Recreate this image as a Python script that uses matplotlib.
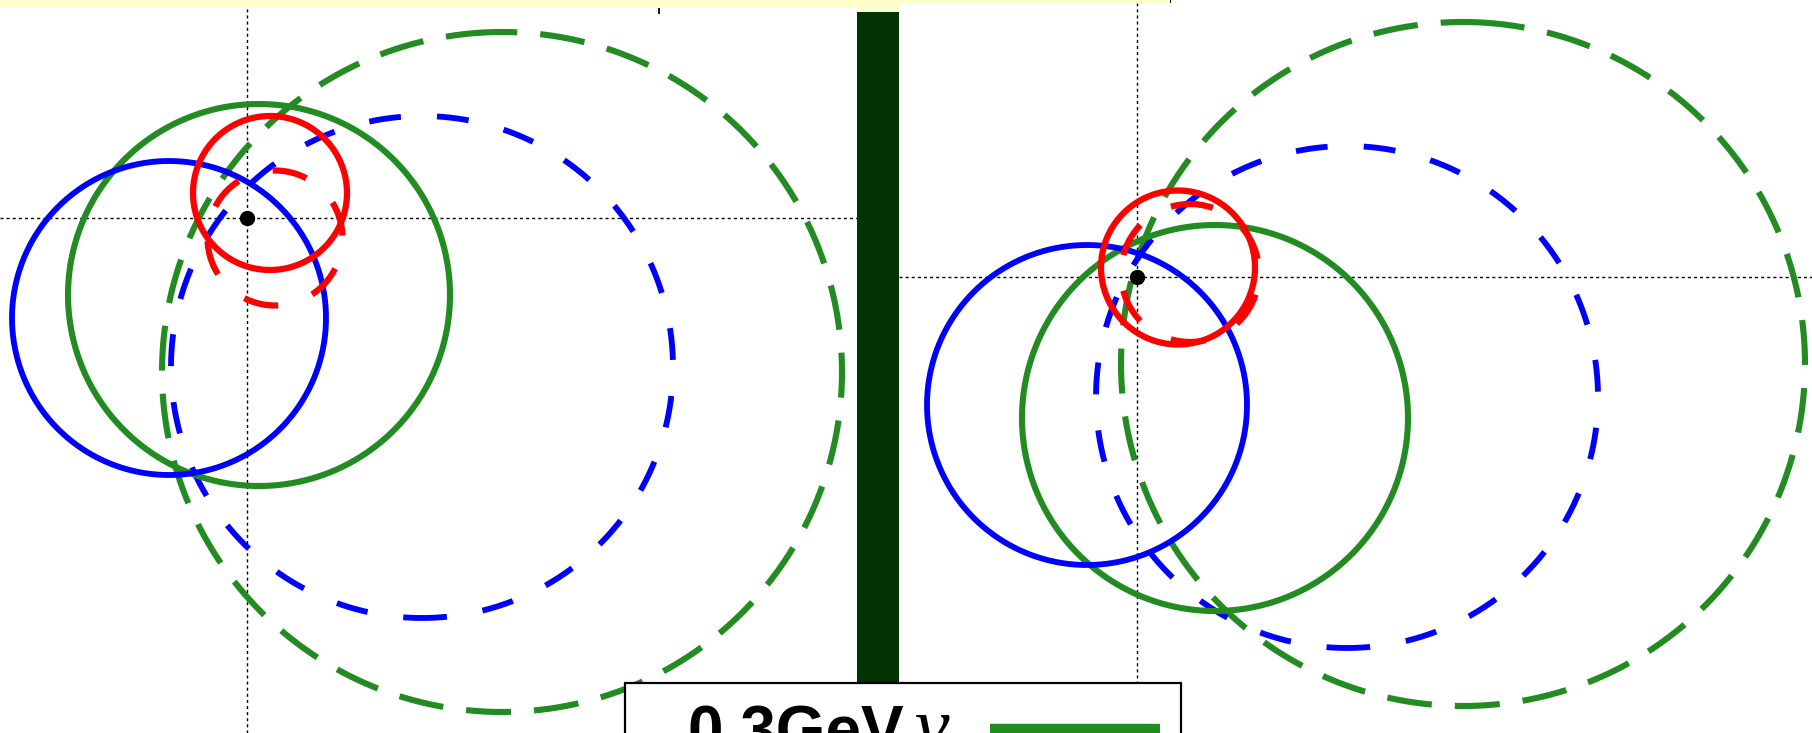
import numpy as np
import matplotlib
matplotlib.use("Agg")
import matplotlib.pyplot as plt
from matplotlib.patches import Rectangle
from matplotlib.lines import Line2D

plt.rcParams["lines.scale_dashes"] = False

# Error circles for two event displays; units relative to the true vertex (0, 0)
# order in each list: blue, green, red
left_solid_x = [-0.78, 0.12, 0.23]
left_solid_y = [-1.00, -0.77, 0.25]
left_solid_r = [1.57, 1.91, 0.77]
left_dashed_x = [1.75, 2.55, 0.28]
left_dashed_y = [-1.49, -1.54, -0.20]
left_dashed_r = [2.51, 3.40, 0.675]

right_solid_x = [-0.50, 0.78, 0.41]
right_solid_y = [-1.28, -1.41, 0.095]
right_solid_r = [1.60, 1.93, 0.77]
right_dashed_x = [2.10, 3.26, 0.53]
right_dashed_y = [-1.20, -0.87, 0.04]
right_dashed_r = [2.51, 3.42, 0.69]

vertex_x = [0.0]
vertex_y = [0.0]
legend_text = "0.3GeV"
legend_symbol = "ν"

colors = ["#0000FF", "#228B22", "#FF0000"]
widths = [4.2, 4.4, 4.5]
dash_styles = [(0, (23, 26)), (0, (32.4, 16.6)), (0, (25.2, 25.9))]
left_dash_start = [268.4, 91.9, 2.0]
right_dash_start = [268.0, 86.2, 77.0]

W, H = 1812, 733
fig = plt.figure(figsize=(W / 100, H / 100), dpi=100, facecolor="#FFFFCC")


def px_axes(x0, y0, x1, y1, ox, oy):
    ax = fig.add_axes([x0 / W, 1 - y1 / H, (x1 - x0) / W, (y1 - y0) / H])
    ax.set_xlim((x0 - ox) / 100, (x1 - ox) / 100)
    ax.set_ylim((oy - y1) / 100, (oy - y0) / 100)
    ax.set_facecolor("white")
    for s in ax.spines.values():
        s.set_visible(False)
    ax.set_yticks([])
    return ax


def ring(ax, cx, cy, r, start_deg=0.0, **kw):
    t = np.deg2rad(start_deg) + np.linspace(0, 2 * np.pi, 1441)
    ax.plot(cx + r * np.cos(t), cy + r * np.sin(t), solid_capstyle="butt",
            dash_capstyle="butt", **kw)


def draw_panel(ax, sx, sy, sr, dx, dy, dr, starts):
    ax.axhline(0, color="black", lw=1.0, ls=(0, (2.2, 2.2)), zorder=1)
    ax.axvline(0, color="black", lw=1.0, ls=(0, (2.2, 2.2)), zorder=1)
    for i in [1, 0]:
        ring(ax, dx[i], dy[i], dr[i], starts[i], color=colors[i], lw=widths[i],
             ls=dash_styles[i], zorder=2)
    for i in [1, 0]:
        ring(ax, sx[i], sy[i], sr[i], color=colors[i], lw=widths[i], zorder=3)
    ring(ax, dx[2], dy[2], dr[2], starts[2], color=colors[2], lw=widths[2],
         ls=dash_styles[2], zorder=4)
    ring(ax, sx[2], sy[2], sr[2], color=colors[2], lw=widths[2], zorder=5)
    ax.plot(vertex_x, vertex_y, "o", color="black", ms=10, zorder=6)


axL = px_axes(0, 8, 857, 733, 247, 218)
draw_panel(axL, left_solid_x, left_solid_y, left_solid_r,
           left_dashed_x, left_dashed_y, left_dashed_r, left_dash_start)
axL.xaxis.set_ticks_position("top")
axL.set_xticks([4.12])
axL.set_xticklabels([])
axL.tick_params(axis="x", direction="in", length=4.5, width=1.3, color="black")

axR = px_axes(899, 3, 1812, 733, 1137, 277)
draw_panel(axR, right_solid_x, right_solid_y, right_solid_r,
           right_dashed_x, right_dashed_y, right_dashed_r, right_dash_start)
axR.xaxis.set_ticks_position("top")
axR.set_xticks([0.34])
axR.set_xticklabels([])
axR.tick_params(axis="x", direction="out", length=2.5, width=1.3, color="black")

# white strip above the right panel and the separator bar
fig.patches.append(Rectangle((1171 / W, 1 - 3 / H), (W - 1171) / W, 3 / H,
                             transform=fig.transFigure, fc="white", ec="none", zorder=0.5))
fig.patches.append(Rectangle((857 / W, 0), 42 / W, 1 - 12 / H,
                             transform=fig.transFigure, fc="#023302", ec="none", zorder=2))

# legend box (runs off the bottom edge)
fig.patches.append(Rectangle((625 / W, -0.15), (1181 - 625) / W, 0.15 + 1 - 683 / H,
                             transform=fig.transFigure, fc="white", ec="black",
                             lw=1.6, zorder=5))
fig.text(688 / W, 1 - 751 / H, legend_text, fontsize=46, fontweight="bold",
         family="Liberation Sans", color="black", va="baseline", ha="left", zorder=6)
fig.text(915 / W, 1 - 751 / H, legend_symbol, fontsize=56, style="italic",
         family=["Liberation Serif", "DejaVu Serif"], color="black",
         va="baseline", ha="left", zorder=6)
fig.lines.append(Line2D([990 / W, 1160 / W], [1 - 729 / H, 1 - 729 / H],
                        transform=fig.transFigure, color=colors[1], lw=7.5,
                        solid_capstyle="butt", zorder=6))

fig.savefig("out.png", dpi=100, facecolor=fig.get_facecolor())
